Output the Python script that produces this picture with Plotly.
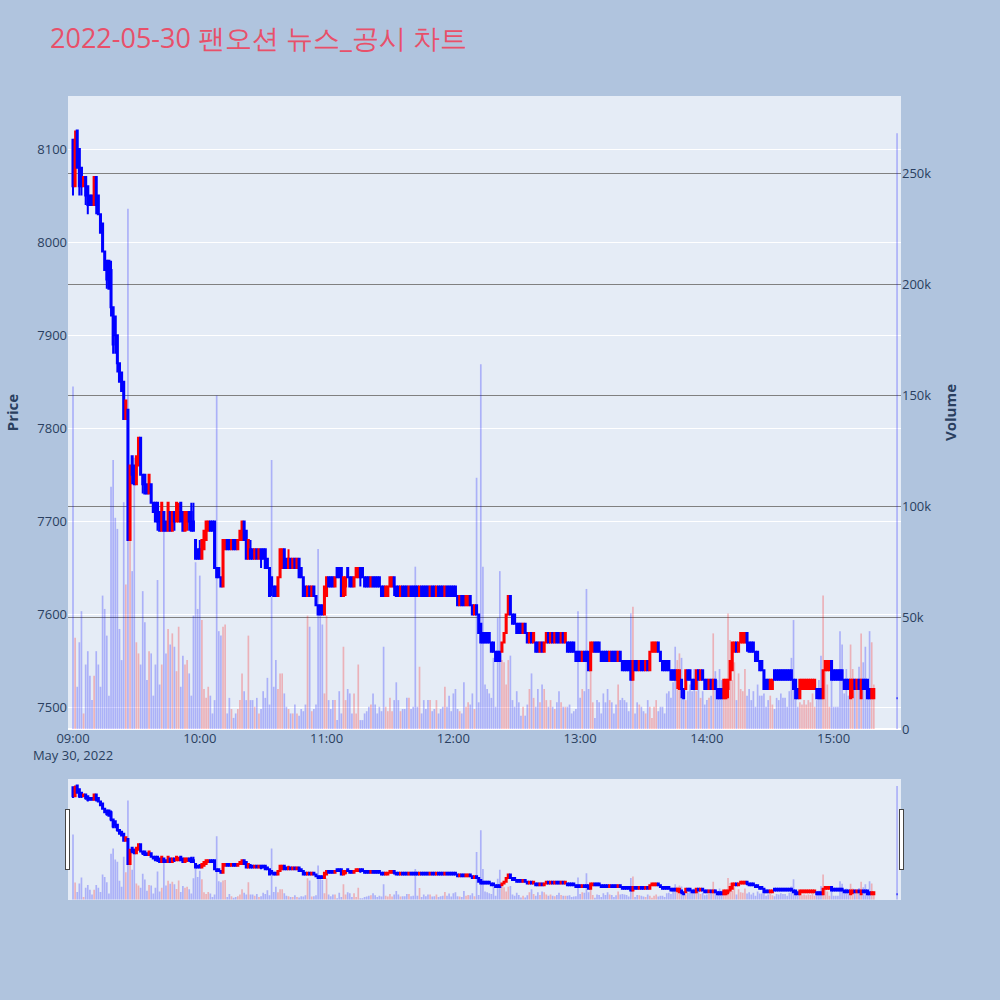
import pandas as pd
import plotly.graph_objects as go

# ---- data (1-minute candles, 09:00-15:19, plus closing auction 15:30) ----
times = list(pd.date_range("2022-05-30 09:00", periods=380, freq="min")) + [pd.Timestamp("2022-05-30 15:30")]

open_ = [
8110,8060,8120,8100,8080,8060,8070,8060,8050,8050,
8040,8070,8050,8030,8020,7990,7980,7980,7970,7930,
7920,7900,7870,7860,7850,7810,7820,7680,7770,7760,
7740,7760,7790,7750,7750,7740,7730,7740,7720,7720,
7720,7710,7690,7710,7700,7690,7710,7690,7710,7700,
7700,7720,7710,7690,7700,7710,7710,7700,7680,7670,
7670,7660,7670,7680,7690,7700,7700,7700,7650,7650,
7640,7630,7670,7680,7680,7670,7680,7680,7670,7680,
7680,7700,7690,7660,7670,7670,7660,7670,7660,7670,
7670,7670,7660,7650,7640,7630,7630,7620,7640,7650,
7670,7660,7650,7660,7650,7660,7650,7660,7650,7640,
7630,7620,7630,7620,7630,7620,7610,7610,7610,7600,
7620,7640,7640,7640,7630,7650,7650,7650,7620,7630,
7650,7640,7640,7630,7640,7640,7650,7650,7640,7640,
7640,7630,7640,7640,7640,7640,7630,7630,7620,7620,
7630,7630,7640,7630,7630,7620,7630,7630,7630,7620,
7630,7630,7630,7630,7620,7630,7630,7630,7630,7620,
7630,7630,7620,7630,7630,7630,7620,7630,7630,7630,
7630,7630,7620,7610,7620,7620,7610,7610,7620,7610,
7600,7610,7600,7590,7580,7580,7580,7580,7570,7570,
7560,7560,7560,7560,7570,7580,7600,7620,7600,7600,
7590,7590,7590,7580,7590,7580,7570,7580,7570,7570,
7570,7560,7570,7560,7570,7580,7570,7580,7570,7580,
7580,7570,7580,7570,7570,7570,7570,7570,7560,7560,
7560,7550,7560,7560,7560,7540,7560,7570,7570,7570,
7560,7560,7560,7560,7550,7560,7560,7560,7550,7560,
7550,7550,7550,7550,7550,7530,7550,7550,7540,7550,
7550,7540,7550,7540,7560,7560,7560,7570,7560,7550,
7550,7550,7550,7540,7540,7540,7530,7520,7530,7520,
7520,7540,7540,7530,7530,7520,7540,7530,7540,7530,
7530,7520,7530,7520,7530,7520,7520,7520,7510,7510,
7520,7530,7540,7560,7570,7560,7570,7570,7570,7580,
7570,7570,7570,7560,7560,7550,7550,7540,7530,7530,
7520,7520,7540,7540,7540,7540,7540,7540,7540,7540,
7540,7530,7530,7520,7510,7520,7520,7520,7520,7520,
7520,7520,7520,7520,7520,7510,7540,7540,7540,7550,
7540,7540,7540,7540,7540,7530,7530,7530,7510,7520,
7530,7520,7530,7510,7530,7530,7530,7520,7510,7510,
7510]

high_ = [
8110,8120,8120,8100,8080,8070,8070,8060,8050,8050,
8070,8070,8050,8030,8020,7990,7980,7980,7980,7930,
7920,7900,7870,7860,7850,7830,7820,7760,7770,7760,
7770,7790,7790,7750,7750,7740,7750,7740,7720,7720,
7720,7710,7720,7710,7700,7720,7710,7710,7710,7720,
7720,7720,7710,7710,7710,7710,7720,7720,7680,7670,
7680,7680,7690,7700,7700,7700,7700,7700,7650,7650,
7640,7680,7680,7680,7680,7680,7680,7680,7680,7690,
7700,7700,7690,7680,7680,7670,7670,7670,7670,7670,
7670,7670,7660,7650,7640,7630,7630,7640,7670,7670,
7670,7660,7670,7660,7660,7660,7660,7660,7650,7640,
7630,7630,7630,7630,7630,7620,7610,7610,7610,7630,
7640,7640,7640,7640,7640,7650,7650,7650,7640,7640,
7650,7640,7640,7640,7650,7650,7650,7650,7640,7640,
7640,7640,7640,7640,7640,7640,7630,7630,7630,7630,
7640,7640,7640,7630,7630,7630,7630,7630,7630,7630,
7630,7630,7630,7630,7630,7630,7630,7630,7630,7630,
7630,7630,7630,7630,7630,7630,7630,7630,7630,7630,
7630,7630,7620,7620,7620,7620,7620,7620,7620,7610,
7610,7610,7600,7590,7580,7580,7580,7580,7570,7570,
7560,7560,7560,7570,7580,7600,7620,7620,7600,7600,
7590,7590,7590,7590,7590,7580,7580,7580,7580,7570,
7570,7570,7570,7570,7580,7580,7580,7580,7580,7580,
7580,7580,7580,7580,7570,7570,7570,7570,7560,7560,
7560,7560,7560,7560,7560,7570,7570,7570,7570,7570,
7560,7560,7560,7560,7560,7560,7560,7560,7560,7560,
7550,7550,7550,7550,7550,7550,7550,7550,7550,7550,
7550,7550,7550,7560,7570,7570,7570,7570,7560,7550,
7550,7550,7550,7540,7540,7540,7540,7540,7530,7520,
7540,7540,7540,7530,7530,7540,7540,7540,7540,7530,
7530,7530,7530,7530,7530,7520,7520,7520,7530,7530,
7530,7550,7570,7570,7570,7570,7580,7580,7580,7580,
7570,7570,7570,7560,7560,7550,7550,7540,7530,7530,
7530,7530,7540,7540,7540,7540,7540,7540,7540,7540,
7540,7530,7530,7520,7530,7530,7530,7530,7530,7530,
7530,7530,7520,7520,7520,7540,7550,7550,7550,7550,
7540,7540,7540,7540,7540,7530,7530,7530,7530,7530,
7530,7530,7530,7530,7530,7530,7530,7520,7520,7520,
7510]

low_ = [
8050,8060,8080,8050,8050,8060,8040,8030,8040,8040,
8040,8030,8030,8010,7990,7970,7950,7950,7920,7880,
7880,7860,7850,7840,7810,7810,7680,7680,7740,7740,
7740,7760,7750,7730,7730,7730,7730,7720,7710,7700,
7690,7690,7690,7690,7690,7690,7690,7690,7690,7700,
7700,7700,7690,7690,7690,7690,7690,7690,7660,7660,
7660,7660,7670,7680,7690,7690,7690,7650,7640,7640,
7630,7630,7670,7670,7670,7670,7670,7670,7670,7680,
7680,7680,7660,7660,7660,7660,7660,7660,7660,7650,
7660,7650,7650,7620,7620,7620,7620,7620,7640,7650,
7650,7650,7650,7650,7650,7650,7650,7640,7640,7620,
7620,7620,7620,7620,7620,7610,7600,7600,7600,7600,
7620,7630,7630,7630,7630,7640,7640,7620,7620,7620,
7640,7630,7630,7630,7640,7640,7630,7640,7630,7630,
7630,7630,7630,7630,7630,7630,7620,7620,7620,7620,
7630,7630,7620,7620,7620,7620,7620,7620,7620,7620,
7620,7620,7620,7620,7620,7620,7620,7620,7620,7620,
7620,7620,7620,7620,7620,7620,7620,7620,7620,7620,
7620,7620,7610,7610,7610,7610,7610,7610,7610,7600,
7600,7600,7580,7570,7570,7570,7570,7570,7560,7560,
7550,7550,7550,7560,7570,7580,7600,7600,7590,7590,
7580,7580,7580,7580,7580,7570,7570,7570,7570,7560,
7560,7560,7560,7560,7570,7570,7570,7570,7570,7570,
7570,7570,7570,7570,7560,7560,7560,7560,7550,7550,
7550,7550,7550,7550,7540,7540,7560,7560,7560,7560,
7550,7550,7550,7550,7550,7550,7550,7550,7550,7550,
7540,7540,7540,7540,7530,7530,7540,7540,7540,7540,
7540,7540,7540,7540,7560,7560,7560,7560,7550,7540,
7540,7540,7540,7530,7530,7530,7520,7520,7510,7510,
7520,7530,7530,7520,7520,7520,7530,7530,7530,7520,
7520,7520,7520,7520,7520,7510,7510,7510,7510,7510,
7510,7530,7540,7560,7560,7560,7570,7570,7570,7560,
7560,7560,7560,7550,7550,7540,7540,7520,7520,7520,
7520,7520,7530,7530,7530,7530,7530,7530,7530,7530,
7530,7520,7510,7510,7510,7520,7520,7520,7520,7520,
7520,7520,7510,7510,7510,7510,7540,7540,7540,7530,
7530,7530,7530,7530,7530,7520,7520,7520,7510,7510,
7520,7520,7520,7510,7520,7520,7510,7510,7510,7510,
7510]

close_ = [
8060,8110,8080,8060,8060,8070,8050,8040,8040,8040,
8070,8040,8030,8010,7990,7970,7960,7950,7930,7890,
7900,7870,7850,7840,7810,7830,7680,7760,7750,7740,
7770,7790,7750,7740,7730,7730,7750,7720,7710,7700,
7700,7690,7720,7690,7690,7720,7690,7710,7700,7720,
7710,7700,7690,7710,7710,7700,7690,7690,7660,7660,
7660,7680,7690,7700,7700,7690,7690,7650,7640,7640,
7630,7680,7680,7670,7670,7680,7670,7670,7680,7690,
7700,7680,7660,7680,7660,7660,7670,7660,7670,7660,
7660,7650,7650,7620,7630,7620,7620,7640,7670,7670,
7650,7650,7660,7650,7660,7650,7660,7640,7640,7620,
7620,7630,7620,7630,7620,7610,7600,7600,7600,7630,
7640,7630,7630,7630,7640,7640,7640,7620,7640,7640,
7640,7630,7630,7640,7650,7650,7640,7640,7630,7630,
7630,7640,7630,7630,7630,7630,7620,7620,7630,7630,
7640,7640,7630,7620,7620,7630,7620,7620,7620,7630,
7620,7620,7620,7620,7630,7620,7620,7620,7620,7630,
7620,7620,7630,7620,7620,7620,7630,7620,7620,7620,
7620,7620,7610,7620,7610,7610,7620,7620,7610,7600,
7610,7600,7580,7570,7570,7570,7570,7570,7560,7560,
7550,7550,7550,7570,7580,7600,7620,7600,7590,7590,
7580,7580,7580,7590,7580,7570,7580,7570,7580,7560,
7560,7570,7560,7570,7580,7570,7580,7570,7580,7570,
7570,7580,7570,7580,7560,7560,7560,7560,7550,7550,
7550,7560,7550,7550,7540,7570,7570,7560,7560,7560,
7550,7550,7550,7550,7560,7550,7550,7550,7560,7550,
7540,7540,7540,7540,7530,7550,7540,7540,7550,7540,
7540,7550,7540,7560,7570,7570,7570,7560,7550,7540,
7540,7540,7540,7530,7530,7530,7540,7540,7520,7510,
7540,7530,7530,7520,7520,7540,7530,7540,7530,7520,
7520,7530,7520,7530,7520,7510,7510,7510,7530,7530,
7530,7550,7570,7570,7560,7570,7580,7580,7580,7570,
7560,7560,7560,7550,7550,7540,7540,7520,7520,7520,
7530,7530,7530,7530,7530,7530,7530,7530,7530,7530,
7530,7520,7510,7510,7530,7530,7530,7530,7530,7530,
7530,7530,7510,7510,7510,7540,7550,7550,7550,7530,
7530,7530,7530,7530,7530,7520,7520,7520,7530,7530,
7520,7530,7520,7530,7520,7520,7510,7510,7520,7520,
7510]

volume = [
154000,41000,19000,39000,53000,7000,29000,35000,24000,13000,
24000,35000,29000,19000,60000,54000,42000,15000,109000,121000,
95000,90000,45000,31000,102000,65000,234000,85000,71000,122000,
39000,34000,29000,62000,48000,22000,35000,34000,15000,29000,
67000,20000,29000,89000,34000,45000,38000,43000,37000,26000,
46000,19000,33000,29000,31000,25000,15000,51000,75000,54000,
69000,49000,18000,14000,19000,15000,7000,13000,150000,44000,
42000,46000,47000,7000,14000,9000,5000,7000,9000,13000,
25000,17000,13000,42000,13000,13000,10000,14000,7000,9000,
17000,14000,23000,11000,121000,19000,31000,18000,25000,25000,
16000,10000,9000,7000,7000,11000,7000,6000,9000,8000,
11000,51000,46000,8000,9000,11000,81000,51000,47000,16000,
51000,13000,9000,13000,13000,4000,17000,7000,37000,13000,
18000,16000,7000,16000,7000,29000,4000,4000,7000,8000,
10000,11000,16000,11000,7000,10000,8000,37000,10000,8000,
14000,8000,13000,21000,13000,8000,9000,9000,14000,14000,
9000,10000,73000,10000,28000,7000,13000,9000,13000,13000,
8000,9000,13000,7000,9000,10000,19000,10000,15000,8000,
16000,18000,9000,8000,7000,21000,10000,12000,11000,16000,
9000,113000,12000,164000,73000,20000,18000,16000,14000,32000,
10000,50000,71000,31000,30000,20000,31000,33000,13000,10000,
17000,12000,6000,10000,6000,11000,18000,25000,14000,10000,
18000,12000,20000,18000,13000,10000,13000,10000,9000,12000,
17000,12000,10000,10000,10000,11000,7000,8000,9000,53000,
14000,18000,17000,63000,18000,31000,12000,5000,13000,12000,
7000,16000,12000,18000,13000,12000,7000,11000,20000,13000,
14000,13000,12000,8000,52000,55000,7000,12000,11000,10000,
8000,7000,13000,10000,5000,10000,13000,8000,10000,10000,
7000,16000,17000,14000,21000,37000,31000,34000,32000,17000,
13000,17000,20000,17000,27000,17000,27000,14000,17000,11000,
13000,14000,15000,43000,26000,22000,27000,22000,17000,17000,
52000,40000,22000,30000,13000,25000,18000,17000,27000,15000,
18000,13000,17000,10000,20000,15000,15000,16000,10000,13000,
15000,11000,9000,14000,13000,16000,14000,14000,10000,17000,
32000,49000,15000,10000,12000,11000,13000,11000,13000,12000,
16000,10000,13000,22000,33000,60000,30000,20000,10000,23000,
10000,10000,10000,44000,38000,16000,27000,15000,38000,27000,
19000,19000,28000,43000,30000,37000,20000,44000,39000,20000,
268000]

vol_colors = ["rgba(255,0,0,0.25)" if c > o else "rgba(0,0,255,0.25)"
              for o, c in zip(open_, close_)]

x_range = ["2022-05-30 08:57:38", "2022-05-30 15:31:52"]

fig = go.Figure()
fig.add_trace(go.Candlestick(
    x=times, open=open_, high=high_, low=low_, close=close_,
    increasing=dict(line=dict(color="red"), fillcolor="red"),
    decreasing=dict(line=dict(color="blue"), fillcolor="blue"),
    name="Price", yaxis="y"))
fig.add_trace(go.Bar(
    x=times, y=volume, marker=dict(color=vol_colors, line=dict(width=0)),
    name="Volume", yaxis="y2"))

fig.update_layout(
    width=1000, height=1000,
    title=dict(text="2022-05-30 팬오션 뉴스_공시 차트", x=0.05,
               font=dict(size=27, color="#E8506A")),
    paper_bgcolor="lightsteelblue",
    plot_bgcolor="#E5ECF6",
    showlegend=False,
    margin=dict(l=68, r=99, t=96, b=100),
    xaxis=dict(range=x_range, showgrid=False, tickfont=dict(size=13),
               rangeslider=dict(visible=True, thickness=0.15, range=x_range)),
    yaxis=dict(title=dict(text="<b>Price</b>", font=dict(size=15)),
               range=[7477, 8157], gridcolor="white", tickfont=dict(size=13)),
    yaxis2=dict(title=dict(text="<b>Volume</b>", font=dict(size=15)),
                overlaying="y", side="right", tickfont=dict(size=13),
                range=[0, 284700], showgrid=True, gridcolor="gray"),
)

fig.write_html("out.html", config={"displayModeBar": False},
               post_script="document.body.style.margin='0px';")
